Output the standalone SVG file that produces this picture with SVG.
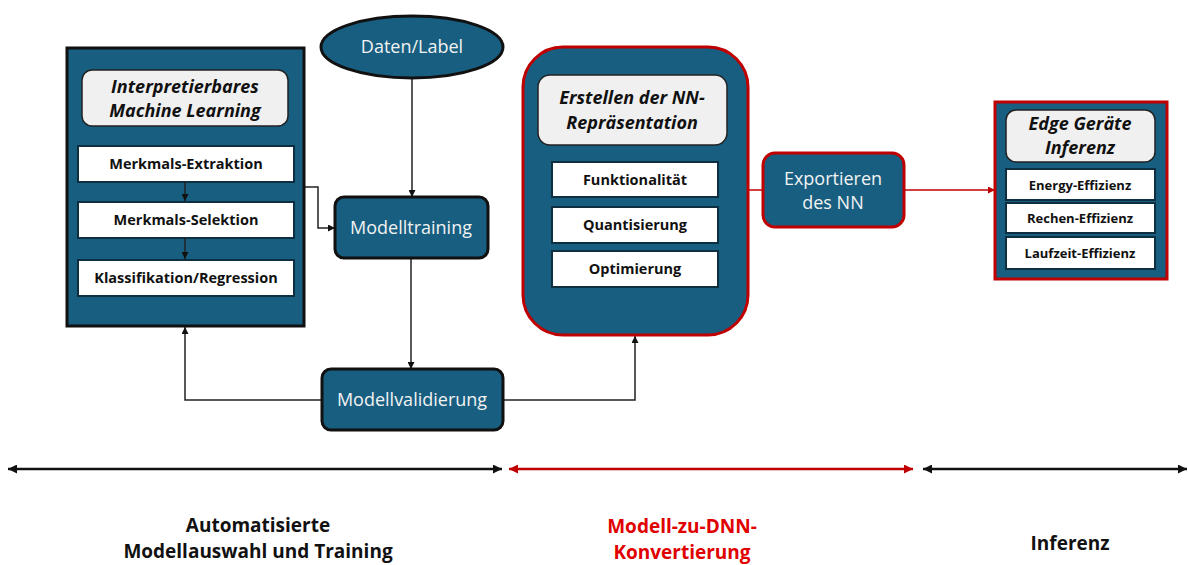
<svg xmlns="http://www.w3.org/2000/svg" width="1188" height="565" viewBox="0 0 1188 565">
<defs>
<style>
.node{fill:#185e80;stroke:#111;stroke-width:3}
.rednode{fill:#185e80;stroke:#c00000;stroke-width:3}
.title{fill:#f0f0f0;stroke:#222;stroke-width:1.5}
.item{fill:#fff;stroke:#0e2f40;stroke-width:2}
.wt{font-family:"Open Sans","Liberation Sans",sans-serif;font-size:18px;fill:#f2f2f2;text-anchor:middle}
.tt{font-family:"Open Sans","Liberation Sans",sans-serif;font-size:18px;font-weight:bold;font-style:italic;fill:#111;text-anchor:middle}
.it{font-family:"Open Sans","Liberation Sans",sans-serif;font-size:14.5px;font-weight:bold;fill:#111;text-anchor:middle}
.st{font-family:"Open Sans","Liberation Sans",sans-serif;font-size:13px;font-weight:bold;fill:#111;text-anchor:middle}
.bt{font-family:"Open Sans","Liberation Sans",sans-serif;font-size:19px;font-weight:bold;text-anchor:middle}
.c{fill:none;stroke:#222;stroke-width:1.5}
.cr{fill:none;stroke:#c00000;stroke-width:1.5}
</style>
<marker id="ah" viewBox="0 0 10 10" refX="10" refY="5" markerWidth="7" markerHeight="7" orient="auto-start-reverse" markerUnits="userSpaceOnUse"><path d="M0,0 L10,5 L0,10 z" fill="#111"/></marker>
<marker id="ahr" viewBox="0 0 10 10" refX="10" refY="5" markerWidth="7" markerHeight="7" orient="auto-start-reverse" markerUnits="userSpaceOnUse"><path d="M0,0 L10,5 L0,10 z" fill="#c00000"/></marker>
<marker id="ahb" viewBox="0 0 10 10" refX="10" refY="5" markerWidth="9" markerHeight="9" orient="auto-start-reverse" markerUnits="userSpaceOnUse"><path d="M0,0 L10,5 L0,10 z" fill="#111"/></marker>
<marker id="ahbr" viewBox="0 0 10 10" refX="10" refY="5" markerWidth="9" markerHeight="9" orient="auto-start-reverse" markerUnits="userSpaceOnUse"><path d="M0,0 L10,5 L0,10 z" fill="#c00000"/></marker>
</defs>
<rect width="1188" height="565" fill="#fff"/>

<g id="connectors">
<path class="c" d="M304,187 H318 V228 H335" marker-end="url(#ah)"/>
<path class="c" d="M412,79 V197" marker-end="url(#ah)"/>
<path class="c" d="M411,258 V369" marker-end="url(#ah)"/>
<path class="c" d="M322,400 H185 V327" marker-end="url(#ah)"/>
<path class="c" d="M503,400 H635 V336" marker-end="url(#ah)"/>
<path class="cr" d="M748,190 H763"/>
<path class="cr" d="M904,190 H995" marker-end="url(#ahr)"/>
<path fill="none" stroke="#111" stroke-width="2.5" d="M8,469 H502" marker-start="url(#ahb)" marker-end="url(#ahb)"/>
<path fill="none" stroke="#c00000" stroke-width="2.5" d="M509,469 H913" marker-start="url(#ahbr)" marker-end="url(#ahbr)"/>
<path fill="none" stroke="#111" stroke-width="2.5" d="M923,469 H1187" marker-start="url(#ahb)" marker-end="url(#ahb)"/>
</g>

<g id="iml">
<rect class="node" x="67" y="48" width="237" height="278"/>
<rect class="title" x="82" y="70" width="206" height="56" rx="10"/>
<text class="tt" x="185" y="93">Interpretierbares</text>
<text class="tt" x="185" y="117">Machine Learning</text>
<rect class="item" x="78" y="146" width="216" height="36"/>
<text class="it" x="186" y="169">Merkmals-Extraktion</text>
<rect class="item" x="78" y="202" width="216" height="36"/>
<text class="it" x="186" y="225">Merkmals-Selektion</text>
<rect class="item" x="78" y="260" width="216" height="36"/>
<text class="it" x="186" y="283">Klassifikation/Regression</text>
<path class="c" d="M185,182 V201" marker-end="url(#ah)"/>
<path class="c" d="M185,238 V259" marker-end="url(#ah)"/>
</g>

<g id="daten">
<ellipse class="node" cx="412" cy="47" rx="91" ry="31"/>
<text class="wt" x="412" y="53">Daten/Label</text>
</g>

<g id="training">
<rect class="node" x="335" y="197" width="153" height="61" rx="9"/>
<text class="wt" x="411" y="234">Modelltraining</text>
</g>

<g id="validierung">
<rect class="node" x="322" y="369" width="181" height="61" rx="9"/>
<text class="wt" x="412" y="406">Modellvalidierung</text>
</g>

<g id="nn">
<rect class="rednode" x="523" y="47" width="225" height="288" rx="40"/>
<rect class="title" x="538" y="75" width="189" height="70" rx="12"/>
<text class="tt" x="632" y="104">Erstellen der NN-</text>
<text class="tt" x="632" y="129">Repräsentation</text>
<rect class="item" x="552" y="162" width="166" height="35"/>
<text class="it" x="635" y="185">Funktionalität</text>
<rect class="item" x="552" y="207" width="166" height="36"/>
<text class="it" x="635" y="230">Quantisierung</text>
<rect class="item" x="552" y="251" width="166" height="36"/>
<text class="it" x="635" y="274">Optimierung</text>
</g>

<g id="export">
<rect class="rednode" x="763" y="153" width="141" height="74" rx="12"/>
<text class="wt" x="833" y="185">Exportieren</text>
<text class="wt" x="833" y="209">des NN</text>
</g>

<g id="edge">
<rect class="rednode" x="995" y="102" width="172" height="177"/>
<rect class="title" x="1006" y="110" width="149" height="52" rx="10"/>
<text class="tt" x="1080" y="130">Edge Geräte</text>
<text class="tt" x="1080" y="154">Inferenz</text>
<rect class="item" x="1006" y="169" width="149" height="31"/>
<text class="st" x="1080" y="190">Energy-Effizienz</text>
<rect class="item" x="1006" y="203" width="149" height="30"/>
<text class="st" x="1080" y="223">Rechen-Effizienz</text>
<rect class="item" x="1006" y="237" width="149" height="32"/>
<text class="st" x="1080" y="258">Laufzeit-Effizienz</text>
</g>

<g id="phases">
<text class="bt" fill="#111" x="258" y="532">Automatisierte</text>
<text class="bt" fill="#111" x="258" y="558">Modellauswahl und Training</text>
<text class="bt" fill="#e00000" x="682" y="533">Modell-zu-DNN-</text>
<text class="bt" fill="#e00000" x="682" y="559">Konvertierung</text>
<text class="bt" fill="#111" x="1070" y="550">Inferenz</text>
</g>
</svg>
